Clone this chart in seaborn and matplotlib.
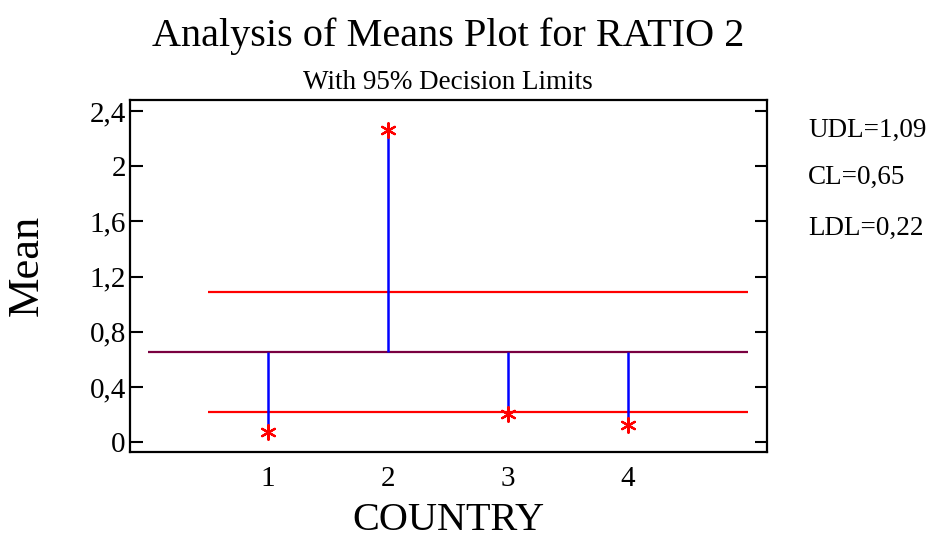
import matplotlib
matplotlib.use("Agg")
import matplotlib.pyplot as plt
import seaborn as sns
import pandas as pd
from matplotlib.ticker import FixedLocator, FixedFormatter

countries = [1, 2, 3, 4]
means = [0.07, 2.26, 0.20, 0.125]
cl = 0.65
udl = 1.09
ldl = 0.22
ytick_vals = [0, 0.4, 0.8, 1.2, 1.6, 2.0, 2.4]
ytick_labels = ["0", "0,4", "0,8", "1,2", "1,6", "2", "2,4"]
limit_texts = ["UDL=1,09", "CL=0,65", "LDL=0,22"]

sns.set_theme(style="white")
plt.rcParams["font.family"] = ["Liberation Serif", "DejaVu Serif"]
plt.rcParams["text.color"] = "black"
plt.rcParams["axes.labelcolor"] = "black"
plt.rcParams["xtick.color"] = "black"
plt.rcParams["ytick.color"] = "black"

fig = plt.figure(figsize=(9.30, 5.41), dpi=100)
ax = fig.add_axes([130/930, 1-452/541, 637/930, 352/541])

df = pd.DataFrame({"COUNTRY": countries, "Mean": means})

ax.hlines(cl, 0, 5, color="#7a0040", lw=1.6, zorder=2)
ax.hlines([udl, ldl], 0.5, 5, color="#ff0000", lw=1.6, zorder=2)
ax.vlines(df["COUNTRY"], cl, df["Mean"], color="#0000ff", lw=1.8, zorder=3)
sns.scatterplot(data=df, x="COUNTRY", y="Mean", ax=ax, marker=(6, 2, 0),
                s=110, color="#ff0000", edgecolor="#ff0000", linewidth=1.6, zorder=4)

ax.set_xlim(-0.15, 5.16)
ax.set_ylim(-0.072, 2.48)
ax.xaxis.set_major_locator(FixedLocator(countries))
ax.set_xticklabels([str(c) for c in countries])
ax.yaxis.set_major_locator(FixedLocator(ytick_vals))
ax.yaxis.set_major_formatter(FixedFormatter(ytick_labels))

ax.tick_params(axis="y", which="both", direction="in", length=9, width=1.5,
               left=True, right=True, labelsize=21, pad=3, colors="black")
ax.tick_params(axis="x", length=0, labelsize=21, pad=10, colors="black")
for sp in ax.spines.values():
    sp.set_linewidth(1.6)
    sp.set_color("black")

ax.set_xlabel("COUNTRY", fontsize=29, va="center")
ax.xaxis.set_label_coords(0.5, (452-521)/352)
ax.set_ylabel("Mean", fontsize=32, va="center")
ax.yaxis.set_label_coords((27-130)/637, (452-265)/352)

fig.text(448/930, 1-36/541, "Analysis of Means Plot for RATIO 2", fontsize=29,
         ha="center", va="center")
fig.text(448/930, 1-83/541, "With 95% Decision Limits", fontsize=19.5,
         ha="center", va="center")
for t, yy in zip(limit_texts, [130, 177, 228]):
    fig.text(808/930, 1-yy/541, t, fontsize=19.5, ha="left", va="center")

fig.savefig("out.png", dpi=100)
